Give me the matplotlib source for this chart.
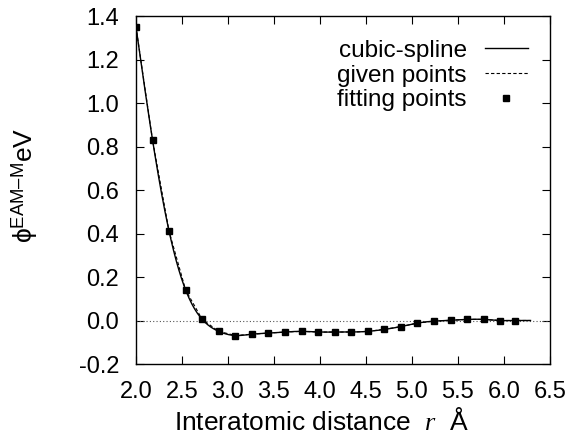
import matplotlib
matplotlib.use("Agg")
import matplotlib.pyplot as plt
import numpy as np

plt.rcParams['font.family'] = ['Liberation Sans', 'DejaVu Sans']
plt.rcParams['mathtext.fontset'] = 'custom'
plt.rcParams['mathtext.rm'] = 'Liberation Sans'
plt.rcParams['mathtext.it'] = 'Liberation Serif:italic'

# fitting points of the EAM-M pair potential
r_fit = [2.00, 2.18, 2.36, 2.54, 2.72, 2.90, 3.08, 3.26, 3.44, 3.62, 3.80, 3.98,
         4.16, 4.34, 4.52, 4.70, 4.88, 5.06, 5.24, 5.42, 5.60, 5.78, 5.96, 6.12]
phi_fit = [1.35, 0.83, 0.41, 0.14, 0.005, -0.05, -0.069, -0.063, -0.058, -0.053, -0.050, -0.053,
           -0.053, -0.053, -0.050, -0.041, -0.028, -0.012, -0.003, 0.001, 0.005, 0.005, 0.0, 0.0]
# given points (fitting points + cutoff)
r_given = r_fit + [6.29]
phi_given = phi_fit + [0.0]


def natural_spline(x, y, xs):
    x = np.asarray(x, float)
    y = np.asarray(y, float)
    n = len(x)
    h = np.diff(x)
    A = np.zeros((n, n))
    b = np.zeros(n)
    A[0, 0] = A[-1, -1] = 1.0
    for i in range(1, n - 1):
        A[i, i - 1] = h[i - 1]
        A[i, i] = 2 * (h[i - 1] + h[i])
        A[i, i + 1] = h[i]
        b[i] = 6 * ((y[i + 1] - y[i]) / h[i] - (y[i] - y[i - 1]) / h[i - 1])
    M = np.linalg.solve(A, b)
    idx = np.clip(np.searchsorted(x, xs) - 1, 0, n - 2)
    x0, x1 = x[idx], x[idx + 1]
    hh = x1 - x0
    t0, t1 = x1 - xs, xs - x0
    return (M[idx] * t0**3 / (6 * hh) + M[idx + 1] * t1**3 / (6 * hh)
            + (y[idx] / hh - M[idx] * hh / 6) * t0 + (y[idx + 1] / hh - M[idx + 1] * hh / 6) * t1)


rs = np.linspace(r_given[0], r_given[-1], 600)
phis = natural_spline(r_given, phi_given, rs)

fig = plt.figure(figsize=(5.68, 4.41), dpi=100)
ax = fig.add_axes([0.2394, 0.1746, 0.7286, 0.7891])

ax.axhline(0, color='#555555', lw=0.8, ls=(0, (1, 2)))
ax.plot(rs, phis, color='black', lw=1.0, label='cubic-spline')
ax.plot(r_given, phi_given, color='black', lw=0.8, ls=(0, (3, 2)), label='given points')
ax.plot(r_fit, phi_fit, ls='none', marker='s', ms=5, color='black', label='fitting points')

ax.set_xlim(2.0, 6.5)
ax.set_ylim(-0.2, 1.4)
ax.set_xticks(np.arange(2.0, 6.51, 0.5))
ax.set_yticks(np.arange(-0.2, 1.41, 0.2))
ax.xaxis.set_major_formatter(matplotlib.ticker.FormatStrFormatter('%.1f'))
ax.yaxis.set_major_formatter(matplotlib.ticker.FormatStrFormatter('%.1f'))
ax.tick_params(direction='in', top=True, right=True, length=6, width=0.8,
               labelsize=17)
ax.tick_params(axis='x', pad=12)
ax.tick_params(axis='y', pad=12)
for s in ax.spines.values():
    s.set_linewidth(1.0)

ax.set_xlabel(r'Interatomic distance  $r$  Å', fontsize=19)
ax.xaxis.set_label_coords(0.449, -0.126)
ax.set_ylabel('ϕ$^{\\mathrm{EAM–M}}$eV', fontsize=19)
ax.yaxis.set_label_coords(-0.232, 0.514)

leg = ax.legend(loc='upper right', frameon=False, markerfirst=False, fontsize=17.5,
                handlelength=1.77, labelspacing=0.12, handletextpad=0.74,
                bbox_to_anchor=(1.0, 0.995))

fig.savefig('out.png', dpi=100)
